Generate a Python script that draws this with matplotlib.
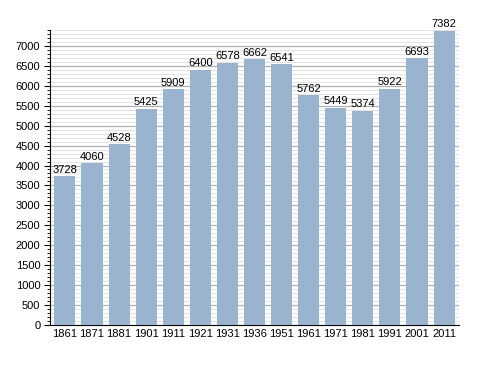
import numpy as np
from matplotlib import pyplot as plt
from matplotlib.ticker import MultipleLocator

plt.rcParams['font.family'] = ['Liberation Sans', 'DejaVu Sans']

# census years and population
years = ['1861', '1871', '1881', '1901', '1911', '1921', '1931', '1936',
         '1951', '1961', '1971', '1981', '1991', '2001', '2011']
population = [3728, 4060, 4528, 5425, 5909, 6400, 6578, 6662,
              6541, 5762, 5449, 5374, 5922, 6693, 7382]

fig = plt.figure(figsize=(4.88, 3.73), dpi=100)
ax = fig.add_axes([0.1025, 0.1287, 0.838, 0.791])

x = np.arange(len(years))
ax.bar(x, population, width=0.78, color='#9ab3cf', zorder=3)

# value labels above each bar
for xi, v in zip(x, population):
    ax.text(xi, v + 40, str(v), ha='center', va='bottom', fontsize=8, zorder=4)

ax.set_xlim(-0.55, len(years) - 0.45)
ax.set_ylim(0, 7400)
ax.set_xticks(x)
ax.set_xticklabels(years)
ax.yaxis.set_major_locator(MultipleLocator(500))
ax.yaxis.set_minor_locator(MultipleLocator(100))

# grid lines: light every 100, darker every 500
ax.grid(which='minor', axis='y', color='#e4e4e4', linewidth=0.8, zorder=0)
ax.grid(which='major', axis='y', color='#b0b0b0', linewidth=0.9, zorder=1)

ax.tick_params(axis='both', labelsize=8, length=0, pad=3)
ax.tick_params(axis='y', which='major', length=4, direction='out')
ax.tick_params(axis='y', which='minor', length=2, direction='out')
ax.spines['top'].set_visible(False)
ax.spines['right'].set_visible(False)

plt.savefig('out.png', dpi=100)
